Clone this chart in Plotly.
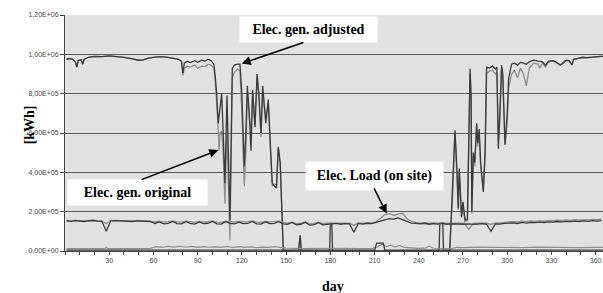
import plotly.graph_objects as go

# ---------------- data (values in 1000 kWh) ----------------
gen_adj_days = [1, 3, 5, 7, 8, 9, 11, 12, 13, 16, 20, 25, 30, 35, 40, 45, 50, 53, 56, 60, 65, 70, 74, 77, 79, 80, 81, 83, 85, 88, 90, 93, 95, 97, 99, 101, 102,
                102.9, 104, 105.2, 106.3, 107.3, 108.5, 109.9, 111, 111.9, 113.5, 115, 117, 118.7, 120, 121.6, 122.7, 123.7, 125, 126.2, 127.3, 128.9,
                130.3, 131.5, 133, 134.1, 135, 136.2, 137.9, 139, 140.6, 142, 143.5, 144.7, 146, 148.1,
                158.5, 159.5, 160.3, 179.5, 180, 181, 181.5, 253.8, 254.3, 256.3, 256.8, 261,
                263, 264.6, 266, 266.8, 267.5, 269, 270, 271.4, 273, 274.2, 274.8, 275.5, 276, 277, 278, 279.3, 280, 281, 282, 283.8, 285,
                286, 288, 290, 292, 293, 294, 295, 296.2, 297, 298.5, 300, 301,
                303, 305, 307, 309, 311, 313, 315, 318, 321, 324, 326, 328, 331, 333, 336, 338, 340, 342, 344, 345, 348, 351, 354, 357, 360, 363, 365]
gen_adj_k = [975, 978, 976, 962, 935, 968, 972, 950, 975, 985, 990, 988, 992, 990, 985, 978, 970, 972, 980, 985, 988, 985, 980, 975, 965, 905, 955, 965, 958, 968, 960, 970, 965, 975, 968, 950, 880,
             800, 650, 720, 800, 600, 345, 790, 450, 157, 930, 945, 950, 950, 800, 430, 600, 840, 700, 510, 820, 630,
             900, 800, 600, 840, 760, 650, 770, 600, 345, 330, 320, 530, 450, 0,
             0, 80, 0, 0, 140, 140, 0, 0, 140, 140, 0, 0,
             300, 614, 400, 218, 420, 174, 250, 157, 160, 600, 927, 800, 200, 500, 450, 650, 550, 620, 450, 300, 500,
             935, 930, 940, 925, 935, 520, 700, 945, 900, 540, 700, 880,
             950, 955, 945, 960, 955, 950, 962, 970, 965, 962, 945, 965, 968, 962, 946, 955, 970, 968, 946, 975, 980, 985, 983, 986, 988, 990, 990]

gen_orig_days = [1, 3, 5, 7, 8, 9, 11, 12, 13, 16, 20, 25, 30, 35, 40, 45, 50, 53, 56, 60, 65, 70, 74, 77, 79, 80, 81, 83, 85, 88, 90, 93, 95, 97, 99, 101, 102,
                 102.9, 104, 104.5, 105.2, 106.3, 107.3, 108.5, 109.9, 111, 111.9, 113.5, 115, 117, 118.7, 120, 121.6, 122.7, 123.7, 125, 126.2, 127.3, 128.9,
                 130.3, 131.5, 133, 134.1, 135, 136.2, 137.9, 139, 140.6, 142, 143.5, 144.7, 146, 148.1,
                 158.5, 159.5, 160.3, 261,
                 263, 264.6, 266, 266.8, 267.5, 269, 270, 271.4, 273, 274.2, 274.8, 275.5, 276, 277, 278, 279.3, 280, 281, 282, 283.8, 285,
                 286, 288, 290, 292, 293, 294, 295, 296.2, 297, 298.5, 300, 301,
                 303, 305, 307, 309, 311, 313, 315, 318, 321, 322, 324, 326, 328, 331, 333, 336, 339, 342, 344, 345, 348, 351, 354, 357, 360, 363, 365]
gen_orig_k = [975, 978, 976, 962, 935, 968, 972, 950, 975, 985, 990, 988, 992, 990, 985, 978, 970, 972, 980, 985, 988, 985, 980, 975, 965, 893, 930, 940, 935, 945, 930, 940, 938, 950, 945, 930, 860,
              760, 610, 510, 600, 610, 500, 240, 620, 300, 55, 880, 910, 925, 915, 700, 330, 500, 800, 680, 600, 800, 640,
              880, 780, 580, 820, 740, 680, 740, 560, 330, 340, 335, 520, 440, 0,
              0, 80, 0, 0,
              280, 600, 380, 210, 400, 170, 240, 150, 155, 560, 900, 780, 190, 480, 430, 640, 530, 600, 430, 310, 480,
              900, 915, 920, 900, 910, 560, 650, 920, 880, 540, 650, 830,
              900, 920, 880, 930, 900, 840, 930, 955, 950, 930, 955, 935, 960, 965, 958, 945, 968, 965, 945, 972, 978, 983, 982, 984, 987, 988, 990]

load_days = list(range(1, 366, 3))
load_dark_k = [153, 151, 154, 152, 150, 153, 155, 152, 151, 100, 152, 154, 153, 151, 152, 150, 153, 152, 151, 150,
               140, 148, 138, 141, 150, 139, 138, 149, 140, 137, 148, 139, 141, 150, 138, 137, 149, 140, 138, 147, 139, 140, 150, 138, 137, 148, 139, 140, 149, 138,
               135, 145, 133, 136, 146, 132, 134, 144, 133, 135,
               137, 140, 136, 139, 138, 95, 140, 137, 141, 139,
               145, 152, 160, 165, 162, 168, 160, 150, 142, 140,
               138, 141, 136, 139, 137, 140, 136, 138, 137, 139,
               136, 138, 135, 137, 139, 136, 100, 138, 137, 140,
               141, 143, 140, 145, 142, 146, 144, 147, 145, 148,
               147, 150, 148, 151, 149, 152, 150, 153, 151, 154, 152, 155]
load_gray_k = [155, 153, 156, 154, 152, 155, 157, 154, 153, 140, 154, 156, 155, 153, 154, 152, 155, 154, 153, 152,
               148, 152, 147, 149, 153, 148, 147, 152, 148, 146, 151, 147, 149, 153, 147, 146, 152, 148, 147, 151, 148, 149, 153, 147, 146, 151, 148, 149, 152, 147,
               140, 147, 139, 141, 148, 138, 140, 146, 139, 141,
               141, 143, 140, 142, 141, 130, 143, 141, 144, 142,
               150, 165, 185, 190, 182, 188, 192, 165, 150, 145,
               142, 144, 140, 143, 141, 144, 140, 142, 141, 143,
               141, 110, 140, 142, 143, 141, 135, 143, 142, 146,
               148, 150, 147, 152, 149, 153, 151, 154, 152, 155,
               154, 157, 155, 158, 156, 159, 157, 160, 158, 161, 159, 162]

low_gray_days = [1, 20, 27, 28, 29, 40, 58, 62, 66, 70, 74, 78, 82, 86, 90, 94, 98, 102, 106, 110, 114, 118, 122, 126, 130, 134, 138, 142, 146, 150,
                 160, 170, 180, 190, 200, 209, 212, 215, 218, 221, 224, 227, 230, 235, 240, 245, 247, 250, 255, 262, 266, 270, 280, 290, 300,
                 310, 320, 330, 340, 350, 360, 365]
low_gray_k = [12, 12, 12, 20, 12, 12, 13, 22, 18, 25, 20, 24, 19, 23, 18, 22, 19, 21, 18, 23, 17, 22, 18, 21, 17, 20, 18, 22, 17, 15,
              12, 13, 12, 14, 12, 13, 20, 35, 22, 30, 20, 28, 18, 15, 13, 16, 25, 14, 12, 12, 18, 17, 20, 18, 19,
              17, 20, 18, 19, 17, 18, 18]

low_dark_days = [1, 210, 211.5, 216, 217, 365]
low_dark_k = [4, 4, 40, 40, 4, 4]

y_tick_vals = [0, 200000, 400000, 600000, 800000, 1000000, 1200000]
y_tick_text = ["0,00E+00", "2,00E+05", "4,00E+05", "6,00E+05", "8,00E+05", "1,00E+06", "1,20E+06"]
x_tick_vals = [30, 60, 90, 120, 150, 180, 210, 240, 270, 300, 330, 360]


def kwh(vals):
    return [v * 1000 for v in vals]


DARK = "#3a3a3a"
GRAY = "#8e8e8e"

fig = go.Figure()
fig.add_trace(go.Scatter(x=gen_orig_days, y=kwh(gen_orig_k), mode="lines", line=dict(color=GRAY, width=1.3), name="Elec. gen. original"))
fig.add_trace(go.Scatter(x=gen_adj_days, y=kwh(gen_adj_k), mode="lines", line=dict(color=DARK, width=1.3), name="Elec. gen. adjusted"))
fig.add_trace(go.Scatter(x=load_days, y=kwh(load_gray_k), mode="lines", line=dict(color=GRAY, width=1.3), name="Elec. Load (orig)"))
fig.add_trace(go.Scatter(x=load_days, y=kwh(load_dark_k), mode="lines", line=dict(color=DARK, width=1.3), name="Elec. Load (on site)"))
fig.add_trace(go.Scatter(x=low_gray_days, y=kwh(low_gray_k), mode="lines", line=dict(color=GRAY, width=1.2), name="low a"))
fig.add_trace(go.Scatter(x=low_dark_days, y=kwh(low_dark_k), mode="lines", line=dict(color=DARK, width=1.2), name="low b"))

serif = "Liberation Serif"
box_font = dict(family=serif, size=14, color="black", weight="bold")

annotations = [
    # text boxes
    dict(x=165.2, y=1124000, text="Elec. gen. adjusted", showarrow=False, bgcolor="white", width=137, height=25,
         borderpad=0, font=box_font, xref="x", yref="y"),
    dict(x=49.2, y=297000, text="Elec. gen. original", showarrow=False, bgcolor="white", width=139, height=25,
         borderpad=0, font=box_font, xref="x", yref="y"),
    dict(x=210.3, y=382000, text="Elec. Load (on site)", showarrow=False, bgcolor="white", width=137, height=28,
         borderpad=0, font=box_font, xref="x", yref="y"),
    # arrows
    dict(x=119.9, y=953000, ax=162.8, ay=1062500, axref="x", ayref="y", xref="x", yref="y", text="",
         showarrow=True, arrowhead=2, arrowsize=1.2, arrowwidth=1.5, arrowcolor="black"),
    dict(x=104.0, y=513000, ax=50.9, ay=360000, axref="x", ayref="y", xref="x", yref="y", text="",
         showarrow=True, arrowhead=2, arrowsize=1.2, arrowwidth=1.5, arrowcolor="black"),
    dict(x=218.2, y=191000, ax=209.2, ay=326000, axref="x", ayref="y", xref="x", yref="y", text="",
         showarrow=True, arrowhead=2, arrowsize=1.2, arrowwidth=1.5, arrowcolor="black"),
    # axis titles
    dict(x=-0.082, y=0.534, xref="paper", yref="paper", text="[kWh]", showarrow=False, textangle=-90,
         font=dict(family=serif, size=14, color="black", weight="bold")),
    dict(x=0.498, y=-0.150, xref="paper", yref="paper", text="day", showarrow=False, yanchor="middle",
         font=dict(family=serif, size=14, color="black", weight="bold")),
]

fig.update_layout(
    width=603, height=293,
    margin=dict(l=65, r=0, t=15, b=42, autoexpand=False),
    paper_bgcolor="white",
    plot_bgcolor="#e2e2e2",
    showlegend=False,
    annotations=annotations,
    xaxis=dict(range=[0, 365], tickvals=x_tick_vals, ticks="outside", ticklen=3, tickcolor="#444",
               showgrid=False, zeroline=False, showline=True, linecolor="#444", linewidth=1, automargin=False,
               tickfont=dict(family="Liberation Sans", size=7, color="#444"),
               minor=dict(tick0=0, dtick=10, ticks="outside", ticklen=3, tickcolor="#444", showgrid=False)),
    yaxis=dict(range=[0, 1200000], tickvals=y_tick_vals, ticktext=y_tick_text, ticks="outside", ticklen=4,
               tickcolor="#444", showgrid=True, gridcolor="#5a5a5a", gridwidth=1, zeroline=False,
               showline=True, linecolor="#444", linewidth=1, automargin=False,
               tickfont=dict(family="Liberation Sans", size=7, color="#444")),
)

# remove the browser's default 8px page margin so the figure fills the window exactly; hide the mode bar
fig.write_html("out.html", config={"displayModeBar": False},
               post_script="document.body.style.margin='0';document.body.style.overflow='hidden';")
